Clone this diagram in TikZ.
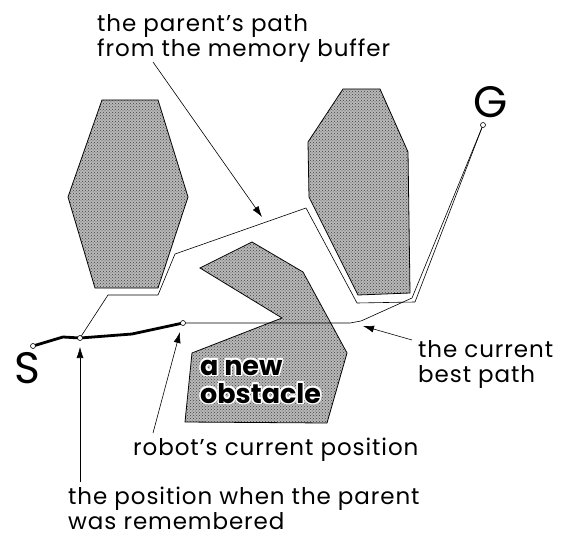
\documentclass[tikz,border=0pt]{standalone}
\usepackage{fontspec}
\setmainfont{Poppins}
\newfontfamily\lblfont{Poppins}[LetterSpace=4]
\usetikzlibrary{arrows.meta,patterns}

\tikzset{
  obst/.style={draw=black, line width=0.8pt, fill=black!28,
    postaction={pattern=crosshatch dots, pattern color=black!75}},
  lbl/.style={anchor=base west, inner sep=0pt, align=left, font=\lblfont\fontsize{23}{25}\selectfont},
  newlbl/.style={anchor=base west, inner sep=0pt, align=left, font=\fontsize{27}{28}\selectfont\bfseries},
  ptr/.style={-{Latex[length=11pt,width=7pt]}, line width=0.6pt},
  dot/.style={circle, draw=black, fill=white, inner sep=0pt, minimum size=5pt, line width=0.6pt},
  big/.style={anchor=base, inner sep=0pt, font=\fontsize{44}{44}\selectfont},
}

\begin{document}
\begin{tikzpicture}[x=1pt,y=-1pt]
  \useasboundingbox (0,0) rectangle (561,534);

  % obstacles
  \draw[obst] (102,100) -- (158,100) -- (188,197) -- (158,288) -- (95,288) -- (68,197) -- cycle;
  \draw[obst] (343,89) -- (380,89) -- (408,152) -- (410,293) -- (358,295) -- (309,197) -- (308,142) -- cycle;
  \draw[obst] (252,242) -- (303,272) -- (347,353) -- (327,423) -- (185,422) -- (192,353) -- (282,318) -- (200,268) -- cycle;

  \coordinate (startc) at (33,346);
  \coordinate (goalc) at (483,125);
  \coordinate (remc) at (80,338);
  \coordinate (robotc) at (183,323);

  % parent's path
  \coordinate (p1) at (108,295);
  \coordinate (p2) at (158,295);
  \coordinate (p3) at (175,254);
  \coordinate (p4) at (306,208);
  \coordinate (p5) at (357,303);
  \coordinate (p6) at (415,302);
  \draw[line width=0.6pt] (remc) -- (p1) -- (p2) -- (p3) -- (p4) -- (p5) -- (p6) -- (goalc);

  % current best path
  \coordinate (b1) at (350,323);
  \coordinate (b2) at (361,321);
  \coordinate (b3) at (412,298);
  \draw[line width=0.6pt] (robotc) -- (b1) -- (b2) -- (b3) -- (goalc);

  % travelled part
  \coordinate (s1) at (63,337);
  \coordinate (s2) at (132,334);
  \draw[line width=2.8pt] (startc) -- (s1) -- (remc) -- (s2) -- (robotc);

  \node[dot] (start) at (startc) {};
  \node[dot] (goal) at (goalc) {};
  \node[dot] (rem) at (remc) {};
  \node[dot] (robot) at (robotc) {};

  \node[big] (slbl) at (27,383) {S};
  \node[big] (glbl) at (491,118) {G};

  % the new obstacle
  \coordinate (newpos) at (200,403);
  \foreach \a [count=\i] in {0,45,...,315}
    \node[newlbl, white, shift={(\a:1.6)}] (halo\i) at (newpos) {a new\\obstacle};
  \node[newlbl] (newlbl) at (newpos) {a new\\obstacle};

  % labels
  \node[lbl] (parlbl) at (97,57) {the parent’s path\\from the memory buffer};
  \node[lbl] (bestlbl) at (418,382) {the current\\best path};
  \node[lbl] (robotlbl) at (133,455) {robot’s current position};
  \node[lbl] (remlbl) at (68,529) {the position when the parent\\was remembered};

  \coordinate (partail) at (153,62);
  \coordinate (besttail) at (412,340);
  \coordinate (robottail) at (153,433);
  \coordinate (remtail) at (80,482);
  \draw[ptr] (partail) -- (262,217);
  \draw[ptr] (besttail) -- (363,326);
  \draw[ptr] (robottail) -- (180,332);
  \draw[ptr] (remtail) -- (80,347);
\end{tikzpicture}
\end{document}
